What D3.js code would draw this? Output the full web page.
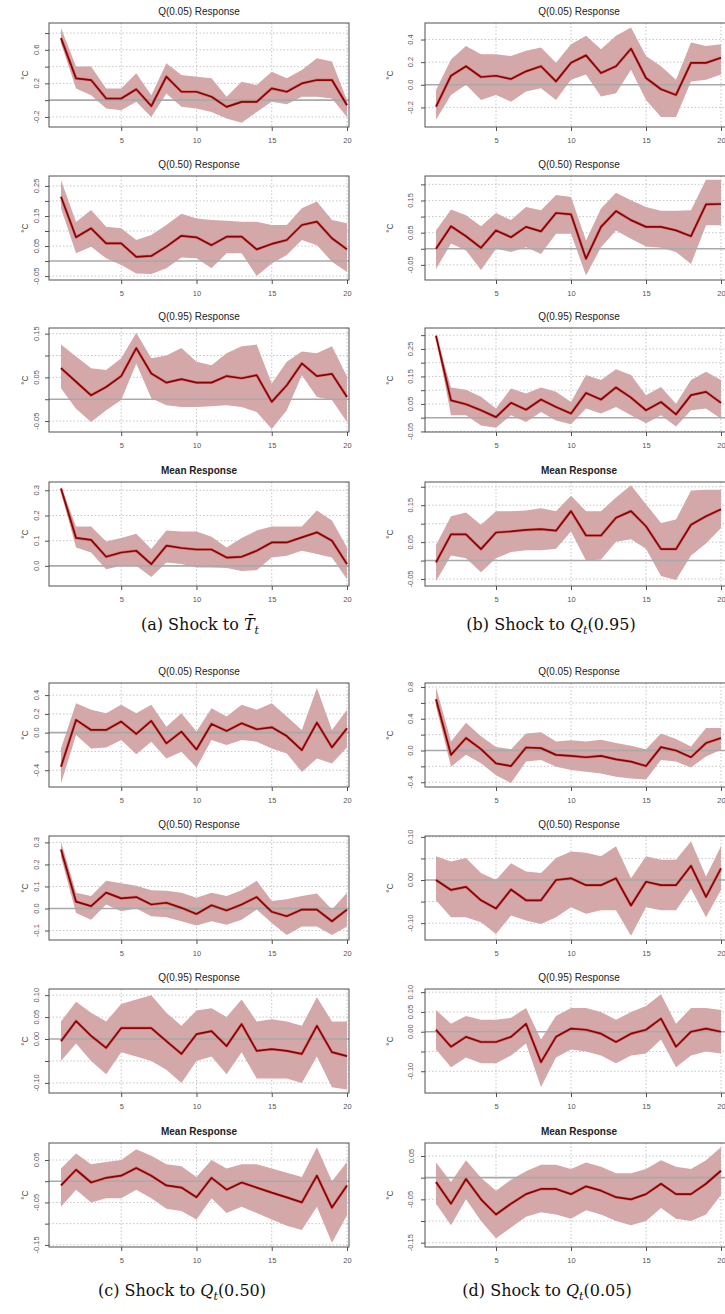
<!DOCTYPE html>
<html><head><meta charset="utf-8">
<script src="https://cdn.jsdelivr.net/npm/d3@7"></script>
<style>body{margin:0;background:#fff;} svg{display:block;}</style>
</head><body>
<svg id="chart" width="725" height="1314"></svg>
<script>
// ---------------- DATA ----------------
const horizons = [1,2,3,4,5,6,7,8,9,10,11,12,13,14,15,16,17,18,19,20];
const xTickValues = [5,10,15,20];

const titles = ["Q(0.05) Response","Q(0.50) Response","Q(0.95) Response","Mean Response"];
const captions = ["(a) Shock to ", "(b) Shock to ", "(c) Shock to ", "(d) Shock to "];
const captionQuantiles = [null, "(0.95)", "(0.50)", "(0.05)"];

// (a) shock to mean temperature
const a1Mid = [0.74,0.26,0.24,0.02,0.02,0.13,-0.07,0.28,0.10,0.10,0.04,-0.08,-0.02,-0.02,0.14,0.10,0.20,0.24,0.24,-0.06];
const a1Hi  = [0.86,0.40,0.40,0.14,0.14,0.32,0.06,0.44,0.30,0.28,0.26,0.04,0.22,0.18,0.34,0.26,0.36,0.50,0.46,0.00];
const a1Lo  = [0.68,0.14,0.06,-0.10,-0.12,-0.02,-0.20,0.08,-0.08,-0.10,-0.14,-0.22,-0.27,-0.14,-0.02,-0.05,0.04,0.04,0.02,-0.20];
const a2Mid = [0.214,0.079,0.109,0.059,0.059,0.014,0.017,0.048,0.084,0.079,0.053,0.081,0.081,0.039,0.057,0.070,0.120,0.131,0.076,0.039];
const a2Hi  = [0.27,0.13,0.17,0.114,0.109,0.07,0.087,0.12,0.157,0.142,0.137,0.134,0.131,0.131,0.12,0.12,0.176,0.198,0.137,0.126];
const a2Lo  = [0.176,0.026,0.048,0.009,-0.013,-0.041,-0.043,-0.024,0.012,0.009,-0.024,0.026,0.026,-0.05,-0.008,0.02,0.07,0.053,-0.002,-0.036];
const a3Mid = [0.071,0.04,0.009,0.028,0.053,0.117,0.059,0.038,0.046,0.038,0.038,0.053,0.048,0.055,-0.006,0.032,0.082,0.053,0.058,0.005];
const a3Hi  = [0.125,0.098,0.071,0.067,0.094,0.152,0.094,0.1,0.117,0.086,0.078,0.105,0.121,0.125,0.036,0.086,0.109,0.105,0.121,0.052];
const a3Lo  = [0.025,-0.022,-0.052,-0.025,-0.002,0.082,0.002,-0.014,-0.018,-0.018,-0.016,-0.014,-0.018,-0.029,-0.068,-0.025,0.055,0.005,-0.002,-0.052];
const a4Mid = [0.307,0.111,0.103,0.036,0.053,0.06,0.007,0.08,0.071,0.065,0.065,0.033,0.036,0.06,0.093,0.093,0.113,0.133,0.1,0.007];
const a4Hi  = [0.316,0.156,0.156,0.097,0.111,0.127,0.067,0.14,0.136,0.136,0.116,0.073,0.111,0.14,0.156,0.156,0.156,0.22,0.18,0.073];
const a4Lo  = [0.293,0.073,0.053,-0.013,0,0,-0.044,0.013,0.007,-0.007,-0.007,-0.009,-0.02,-0.017,0.033,0.04,0.06,0.047,0.033,-0.053];

// (b) shock to Q(0.95)
const b1Mid = [-0.194,0.08,0.164,0.069,0.08,0.051,0.119,0.164,0.03,0.194,0.26,0.104,0.164,0.319,0.06,-0.039,-0.09,0.194,0.194,0.239];
const b1Hi  = [-0.045,0.224,0.343,0.27,0.27,0.254,0.3,0.33,0.194,0.358,0.433,0.313,0.433,0.507,0.254,0.164,0.045,0.373,0.343,0.358];
const b1Lo  = [-0.31,-0.09,0,-0.134,-0.09,-0.149,-0.06,-0.03,-0.134,0.045,0.09,-0.104,-0.075,0.134,-0.134,-0.284,-0.284,0.03,0.045,0.09];
const b2Mid = [0,0.07,0.039,0.003,0.057,0.036,0.068,0.054,0.111,0.107,-0.031,0.068,0.117,0.089,0.068,0.068,0.057,0.039,0.138,0.139];
const b2Hi  = [0.057,0.122,0.104,0.07,0.111,0.089,0.13,0.12,0.167,0.161,0.026,0.125,0.174,0.151,0.13,0.118,0.118,0.12,0.214,0.214];
const b2Lo  = [-0.063,0.016,-0.005,-0.066,0,-0.01,0.005,-0.016,0.047,0.047,-0.083,0.005,0.057,0.031,0.007,0.003,-0.01,-0.047,0.073,0.073];
const b3Mid = [0.298,0.063,0.049,0.027,0.002,0.054,0.029,0.066,0.039,0.015,0.09,0.066,0.11,0.073,0.027,0.057,0.012,0.082,0.094,0.054];
const b3Hi  = [0.30,0.11,0.102,0.076,0.033,0.106,0.088,0.11,0.094,0.057,0.155,0.137,0.176,0.155,0.082,0.112,0.051,0.137,0.167,0.137];
const b3Lo  = [0.293,0.009,0.009,-0.028,-0.037,0.009,-0.016,0.021,-0.01,-0.024,0.033,0.015,0.039,0.009,-0.02,0.009,-0.032,0.027,0.033,-0.004];
const b4Mid = [-0.005,0.071,0.071,0.031,0.076,0.079,0.083,0.085,0.081,0.134,0.068,0.068,0.116,0.134,0.093,0.031,0.031,0.097,0.12,0.139];
const b4Hi  = [0.042,0.12,0.13,0.097,0.134,0.134,0.136,0.142,0.134,0.176,0.134,0.134,0.171,0.204,0.153,0.102,0.111,0.19,0.192,0.192];
const b4Lo  = [-0.056,0.014,0.006,-0.032,0.006,0.023,0.028,0.028,0.032,0.079,0,0.003,0.051,0.058,0.032,-0.042,-0.053,0.014,0.046,0.088];

// (c) shock to Q(0.50)
const c1Mid = [-0.364,0.136,0.029,0.029,0.118,-0.014,0.125,-0.114,0.011,-0.179,0.093,0.018,0.1,0.036,0.057,-0.036,-0.186,0.107,-0.157,0.046];
const c1Hi  = [-0.168,0.314,0.243,0.207,0.296,0.207,0.296,0.064,0.207,0.011,0.261,0.171,0.296,0.243,0.314,0.171,0.029,0.475,0.029,0.243];
const c1Lo  = [-0.543,-0.025,-0.168,-0.157,-0.079,-0.229,-0.096,-0.275,-0.204,-0.371,-0.079,-0.132,-0.079,-0.096,-0.168,-0.221,-0.418,-0.275,-0.329,-0.157];
const c2Mid = [0.268,0.031,0.011,0.072,0.046,0.052,0.018,0.026,0.003,-0.025,0.015,-0.009,0.018,0.052,-0.015,-0.035,-0.005,-0.005,-0.058,-0.005];
const c2Hi  = [0.303,0.072,0.057,0.126,0.114,0.103,0.083,0.08,0.072,0.049,0.072,0.057,0.083,0.126,0.034,0.042,0.057,0.068,-0.005,0.072];
const c2Lo  = [0.234,-0.02,-0.051,0.018,-0.012,0,-0.035,-0.04,-0.058,-0.077,-0.058,-0.074,-0.051,-0.005,-0.066,-0.12,-0.082,-0.082,-0.12,-0.082];
const c3Mid = [-0.005,0.041,0.007,-0.02,0.025,0.025,0.025,-0.005,-0.034,0.011,0.018,-0.016,0.034,-0.027,-0.023,-0.027,-0.034,0.03,-0.03,-0.039];
const c3Hi  = [0.04,0.085,0.06,0.04,0.08,0.09,0.1,0.06,0.03,0.065,0.07,0.05,0.09,0.04,0.045,0.04,0.03,0.095,0.04,0.04];
const c3Lo  = [-0.05,-0.01,-0.05,-0.08,-0.03,-0.04,-0.05,-0.07,-0.1,-0.05,-0.04,-0.08,-0.03,-0.09,-0.09,-0.09,-0.1,-0.04,-0.11,-0.115];
const c4Mid = [-0.01,0.027,-0.003,0.008,0.013,0.031,0.013,-0.01,-0.015,-0.038,0.008,-0.02,-0.003,-0.015,-0.027,-0.038,-0.05,0.013,-0.062,-0.01];
const c4Hi  = [0.03,0.065,0.04,0.045,0.05,0.075,0.06,0.04,0.035,0.01,0.05,0.03,0.04,0.04,0.03,0.02,0.01,0.08,0.0,0.045];
const c4Lo  = [-0.06,-0.02,-0.05,-0.04,-0.04,-0.02,-0.04,-0.065,-0.07,-0.09,-0.04,-0.075,-0.06,-0.075,-0.09,-0.105,-0.115,-0.06,-0.145,-0.08];

// (d) shock to Q(0.05)
const d1Mid = [0.647,-0.055,0.157,0.017,-0.162,-0.196,0.038,0.03,-0.055,-0.068,-0.085,-0.068,-0.111,-0.14,-0.196,0.043,0,-0.085,0.094,0.157];
const d1Hi  = [0.796,0.115,0.349,0.179,0.043,0.017,0.213,0.23,0.115,0.128,0.115,0.136,0.094,0.06,0.017,0.213,0.145,0.051,0.285,0.285];
const d1Lo  = [0.562,-0.204,-0.055,-0.162,-0.311,-0.409,-0.14,-0.119,-0.204,-0.247,-0.268,-0.289,-0.332,-0.353,-0.366,-0.119,-0.14,-0.213,-0.077,0.009];
const d2Mid = [0,-0.023,-0.016,-0.047,-0.066,-0.022,-0.047,-0.047,0,0.004,-0.012,-0.012,0.004,-0.059,-0.004,-0.012,-0.012,0.033,-0.039,0.027];
const d2Hi  = [0.055,0.043,0.051,0.016,0,0.039,0.02,0.016,0.051,0.066,0.063,0.055,0.078,0.004,0.055,0.047,0.047,0.09,0.008,0.078];
const d2Lo  = [-0.047,-0.086,-0.086,-0.098,-0.125,-0.082,-0.094,-0.102,-0.086,-0.063,-0.078,-0.07,-0.07,-0.129,-0.063,-0.07,-0.07,-0.02,-0.086,-0.023];
const d3Mid = [0.005,-0.038,-0.013,-0.026,-0.026,-0.013,0.02,-0.077,-0.013,0.008,0.005,-0.005,-0.026,-0.005,0.005,0.033,-0.038,0.0,0.008,0.0];
const d3Hi  = [0.055,0.02,0.04,0.03,0.03,0.035,0.06,-0.02,0.04,0.06,0.06,0.05,0.03,0.05,0.065,0.095,0.02,0.06,0.06,0.055];
const d3Lo  = [-0.045,-0.09,-0.065,-0.08,-0.08,-0.06,-0.03,-0.14,-0.065,-0.045,-0.05,-0.06,-0.08,-0.06,-0.055,-0.02,-0.09,-0.06,-0.05,-0.055];
const d4Mid = [-0.01,-0.06,-0.003,-0.05,-0.085,-0.06,-0.038,-0.026,-0.026,-0.038,-0.02,-0.03,-0.045,-0.05,-0.038,-0.014,-0.038,-0.038,-0.014,0.016];
const d4Hi  = [0.035,-0.01,0.04,0.0,-0.03,-0.005,0.015,0.03,0.03,0.02,0.035,0.025,0.01,0.01,0.02,0.04,0.025,0.02,0.04,0.07];
const d4Lo  = [-0.06,-0.11,-0.05,-0.1,-0.14,-0.115,-0.09,-0.08,-0.085,-0.095,-0.075,-0.085,-0.1,-0.11,-0.1,-0.07,-0.095,-0.1,-0.085,-0.04];

// y-axis domains, grid ticks and labelled ticks
const yDomains = {
  a1:[-0.32,0.92], a2:[-0.063,0.283], a3:[-0.075,0.163], a4:[-0.08,0.333],
  b1:[-0.373,0.546], b2:[-0.097,0.226], b3:[-0.052,0.326], b4:[-0.069,0.213],
  c1:[-0.579,0.529], c2:[-0.143,0.329], c3:[-0.123,0.114], c4:[-0.155,0.09],
  d1:[-0.46,0.851], d2:[-0.139,0.102], d3:[-0.155,0.108], d4:[-0.16,0.08]
};
const yTicks = {
  a1:[-0.2,0,0.2,0.4,0.6,0.8], a2:[-0.05,0,0.05,0.1,0.15,0.2,0.25], a3:[-0.05,0,0.05,0.1,0.15], a4:[0,0.1,0.2,0.3],
  b1:[-0.2,0,0.2,0.4], b2:[-0.05,0,0.05,0.1,0.15,0.2], b3:[-0.05,0,0.05,0.1,0.15,0.2,0.25,0.3], b4:[-0.05,0,0.05,0.1,0.15,0.2],
  c1:[-0.4,-0.2,0,0.2,0.4], c2:[-0.1,0,0.1,0.2,0.3], c3:[-0.1,-0.05,0,0.05,0.1], c4:[-0.15,-0.1,-0.05,0,0.05],
  d1:[-0.4,-0.2,0,0.2,0.4,0.6,0.8], d2:[-0.1,-0.05,0,0.05,0.1], d3:[-0.1,-0.05,0,0.05,0.1], d4:[-0.15,-0.1,-0.05,0,0.05]
};
const yLabelled = {
  a1:[-0.2,0.2,0.6], a2:[-0.05,0.05,0.15,0.25], a3:[-0.05,0.05,0.15], a4:[0,0.1,0.2,0.3],
  b1:[-0.2,0,0.2,0.4], b2:[-0.05,0.05,0.15], b3:[-0.05,0.05,0.15,0.25], b4:[-0.05,0.05,0.15],
  c1:[-0.4,0,0.2,0.4], c2:[-0.1,0,0.1,0.2,0.3], c3:[-0.1,0,0.05,0.1], c4:[-0.15,-0.05,0.05],
  d1:[-0.4,0,0.4,0.8], d2:[-0.1,0,0.1], d3:[-0.1,0,0.05,0.1], d4:[-0.15,-0.05,0.05]
};

const series = {
  a1:[a1Mid,a1Lo,a1Hi], a2:[a2Mid,a2Lo,a2Hi], a3:[a3Mid,a3Lo,a3Hi], a4:[a4Mid,a4Lo,a4Hi],
  b1:[b1Mid,b1Lo,b1Hi], b2:[b2Mid,b2Lo,b2Hi], b3:[b3Mid,b3Lo,b3Hi], b4:[b4Mid,b4Lo,b4Hi],
  c1:[c1Mid,c1Lo,c1Hi], c2:[c2Mid,c2Lo,c2Hi], c3:[c3Mid,c3Lo,c3Hi], c4:[c4Mid,c4Lo,c4Hi],
  d1:[d1Mid,d1Lo,d1Hi], d2:[d2Mid,d2Lo,d2Hi], d3:[d3Mid,d3Lo,d3Hi], d4:[d4Mid,d4Lo,d4Hi]
};

// ---------------- LAYOUT ----------------
const cols = [
  {x0:49, x1:349, xr:[61,347], yTickX:37, yLabX:25},
  {x0:425, x1:733, xr:[436,721], yTickX:411, yLabX:390}
];
const groupTops = [[23,176,328,482],[23,176,328,482],[683,836,989,1143],[683,836,989,1143]];
const groupCols = [0,1,0,1];
const boxH = 104;
const captionPos = [[200,630],[551,630],[182,1296],[547,1296]];

const BAND = "#d4a7a8", LINE = "#8b0000";
const svg = d3.select("#chart");
const sans = "'Liberation Sans', Arial, sans-serif";

["a","b","c","d"].forEach((g, gi) => {
  const col = cols[groupCols[gi]];
  for (let r = 0; r < 4; r++) {
    const key = g + (r+1);
    const top = groupTops[gi][r], bottom = top + boxH;
    const [mid, lo, hi] = series[key];
    const x = d3.scaleLinear().domain([1,20]).range(col.xr);
    const y = d3.scaleLinear().domain(yDomains[key]).range([bottom, top]);
    const dec = yTicks[key].some(t => Math.abs(t*10 - Math.round(t*10)) > 1e-9) ? 2 : 1;
    const rows = horizons.map((h,i) => ({h, m:mid[i], l:lo[i], u:hi[i]}));

    const pg = svg.append("g");
    const clipId = "clip-" + key;
    pg.append("clipPath").attr("id", clipId).append("rect")
      .attr("x", col.x0).attr("y", top).attr("width", col.x1-col.x0).attr("height", boxH);
    const plot = pg.append("g").attr("clip-path", `url(#${clipId})`);

    // band
    plot.append("path").datum(rows)
      .attr("d", d3.area().x(d=>x(d.h)).y0(d=>y(d.l)).y1(d=>y(d.u)))
      .attr("fill", BAND);

    // grid
    plot.selectAll(".vg").data(xTickValues).join("line")
      .attr("x1", d=>x(d)).attr("x2", d=>x(d)).attr("y1", top).attr("y2", bottom)
      .attr("stroke", "#b8b8b8").attr("stroke-width", 0.8).attr("stroke-dasharray", "1.5,2");
    plot.selectAll(".hg").data(yTicks[key].filter(t => t !== 0)).join("line")
      .attr("x1", col.x0).attr("x2", col.x1).attr("y1", d=>y(d)).attr("y2", d=>y(d))
      .attr("stroke", "#b8b8b8").attr("stroke-width", 0.8).attr("stroke-dasharray", "1.5,2");

    // zero line
    plot.append("line").attr("x1", col.x0).attr("x2", col.x1)
      .attr("y1", y(0)).attr("y2", y(0)).attr("stroke", "#a9a9a9").attr("stroke-width", 1.6);

    // response line
    const ln = d3.line().x(d=>x(d.h)).y(d=>y(d.m));
    plot.append("path").datum(rows).attr("d", ln)
      .attr("fill", "none").attr("stroke", "#d23a3a").attr("stroke-width", 3).attr("stroke-opacity", 0.4)
      .attr("stroke-linejoin", "round");
    plot.append("path").datum(rows).attr("d", ln)
      .attr("fill", "none").attr("stroke", LINE).attr("stroke-width", 1.7).attr("stroke-linejoin", "round");

    // box
    pg.append("rect").attr("x", col.x0).attr("y", top).attr("width", col.x1-col.x0).attr("height", boxH)
      .attr("fill", "none").attr("stroke", "#505050").attr("stroke-width", 1);

    // x axis
    const xa = pg.append("g").attr("transform", `translate(0,${bottom})`)
      .call(d3.axisBottom(x).tickValues(xTickValues).tickSize(4).tickPadding(7).tickFormat(d3.format("d")));
    xa.select(".domain").remove();
    xa.selectAll("line").attr("stroke", "#505050");
    xa.selectAll("text").attr("font-family", sans).attr("font-size", 7.5).attr("fill", "#555");

    // y axis (ticks)
    const ya = pg.append("g").attr("transform", `translate(${col.x0},0)`)
      .call(d3.axisLeft(y).tickValues(yTicks[key]).tickSize(4).tickFormat(""));
    ya.select(".domain").remove();
    ya.selectAll("line").attr("stroke", "#505050");
    // y tick labels, rotated as in R
    pg.selectAll(".yl").data(yLabelled[key]).join("text")
      .attr("x", col.yTickX).attr("y", d=>y(d))
      .attr("transform", d=>`rotate(-90,${col.yTickX},${y(d)})`)
      .attr("text-anchor", "middle").attr("dominant-baseline", "central")
      .attr("font-family", sans).attr("font-size", 7.5).attr("fill", "#555")
      .text(d => d.toFixed(dec));

    // y label
    pg.append("text").attr("x", col.yLabX).attr("y", (top+bottom)/2)
      .attr("transform", `rotate(-90,${col.yLabX},${(top+bottom)/2})`)
      .attr("text-anchor", "middle").attr("dominant-baseline", "central")
      .attr("font-family", sans).attr("font-size", 8.5).attr("fill", "#444").text("°C");

    // title
    pg.append("text").attr("x", (col.x0+col.x1)/2).attr("y", top-8)
      .attr("text-anchor", "middle").attr("font-family", sans).attr("font-size", 10)
      .attr("font-weight", r === 3 ? "bold" : "normal").attr("fill", "#222")
      .text(titles[r]);
  }

  // caption
  const [cx, cy] = captionPos[gi];
  const cap = svg.append("text").attr("x", cx).attr("y", cy).attr("text-anchor", "middle")
    .attr("font-family", "'DejaVu Serif', 'Liberation Serif', serif").attr("font-size", 16).attr("fill", "#111");
  cap.append("tspan").text(captions[gi]);
  if (captionQuantiles[gi] === null) {
    cap.append("tspan").attr("font-style", "italic").text("T\u0304");
  } else {
    cap.append("tspan").attr("font-style", "italic").text("Q");
  }
  cap.append("tspan").attr("font-style", "italic").attr("font-size", 11).attr("dy", 4).text("t");
  if (captionQuantiles[gi] !== null) {
    cap.append("tspan").attr("dy", -4).text(captionQuantiles[gi]);
  }
});
</script>
</body></html>
